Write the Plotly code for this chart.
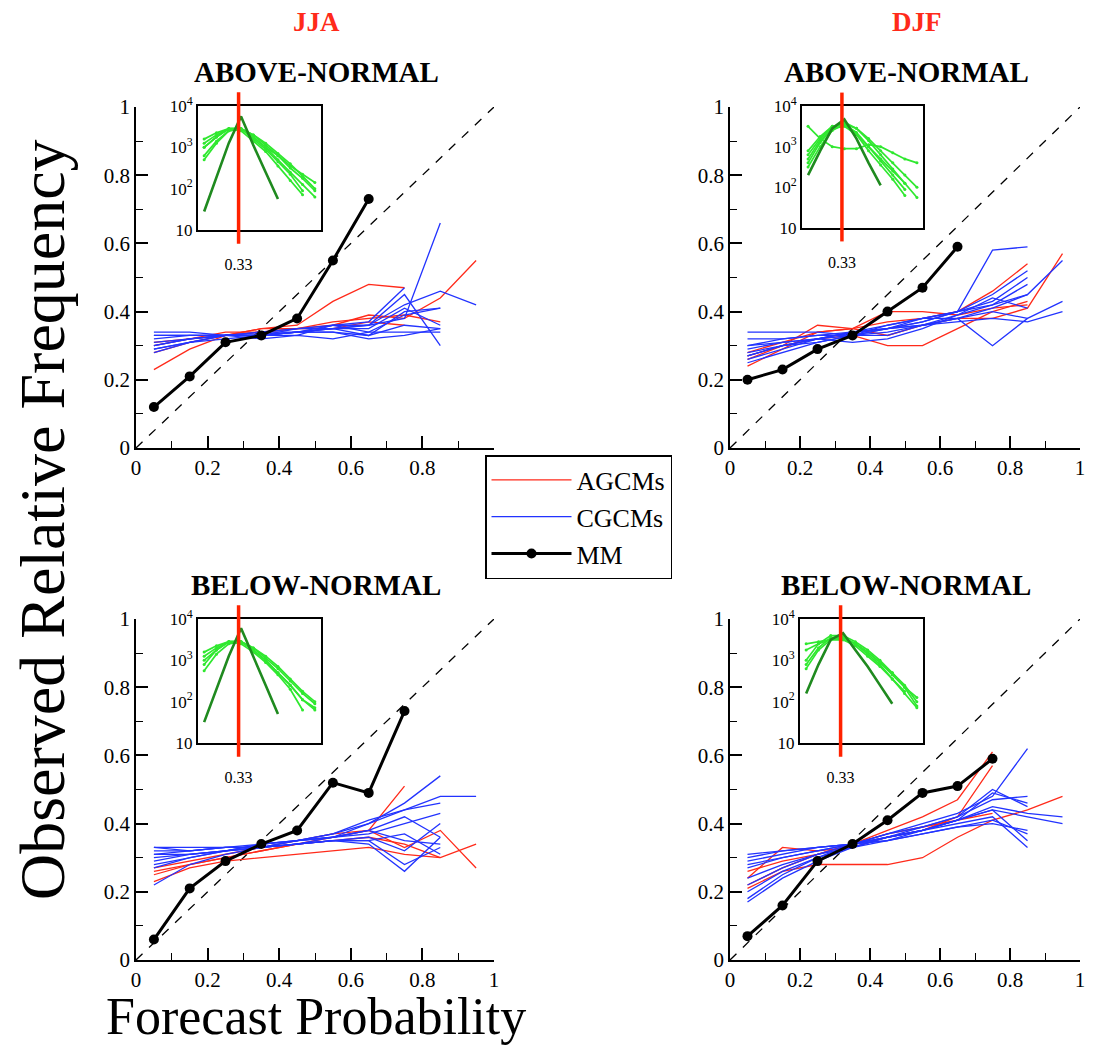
import plotly.graph_objects as go

# ---------------- data ----------------
BINS = [0.05, 0.15, 0.25, 0.35, 0.45, 0.55, 0.65, 0.75, 0.85, 0.95]
SEASONS = ["JJA", "DJF"]
CATEGORIES = ["ABOVE-NORMAL", "BELOW-NORMAL"]
LEGEND_NAMES = ["AGCMs", "CGCMs", "MM"]

# JJA above-normal
JJA_AN_MM = [0.12, 0.21, 0.31, 0.33, 0.38, 0.55, 0.73]
JJA_AN_AGCM = [
    [0.23, 0.29, 0.33, 0.35, 0.36, 0.43, 0.48, 0.47],
    [0.31, 0.32, 0.33, 0.35, 0.35, 0.36, 0.39, 0.38, 0.44, 0.55],
    [0.28, 0.31, 0.33, 0.34, 0.35, 0.35, 0.37, 0.36],
    [0.30, 0.32, 0.34, 0.34, 0.35, 0.37, 0.38, 0.39, 0.37],
]
JJA_AN_CGCM = [
    [0.34, 0.34, 0.33, 0.33, 0.35, 0.35, 0.33, 0.36, 0.35],
    [0.29, 0.31, 0.33, 0.33, 0.34, 0.35, 0.36, 0.38, 0.66],
    [0.30, 0.32, 0.33, 0.34, 0.35, 0.36, 0.37, 0.47],
    [0.28, 0.31, 0.33, 0.33, 0.34, 0.36, 0.36, 0.45, 0.30],
    [0.32, 0.33, 0.33, 0.33, 0.34, 0.34, 0.33, 0.40, 0.41],
    [0.33, 0.33, 0.33, 0.33, 0.34, 0.34, 0.32, 0.33, 0.35],
    [0.30, 0.32, 0.33, 0.33, 0.34, 0.35, 0.36, 0.42, 0.46, 0.42],
    [0.31, 0.32, 0.33, 0.34, 0.34, 0.35, 0.35, 0.41, 0.36],
    [0.29, 0.31, 0.32, 0.33, 0.33, 0.36, 0.34, 0.39, 0.41],
    [0.33, 0.33, 0.33, 0.32, 0.33, 0.32, 0.34, 0.34, 0.34],
]
JJA_AN_HIST_MM = [28, 200, 1260, 5600, 1120, 250, 56]
JJA_AN_HIST_MODELS = [
    [1000, 1780, 2820, 2820, 2000, 1120, 630, 355, 224, 141],
    [630, 1410, 2510, 2820, 1780, 1000, 500, 251, 126, 63],
    [1580, 2240, 2820, 2820, 1580, 890, 450, 224, 89],
    [500, 1260, 2510, 2820, 2000, 1260, 710, 400, 200, 100],
    [1000, 1780, 2820, 2510, 1410, 790, 355, 158, 71],
    [1260, 2000, 2820, 2820, 1780, 1000, 630, 316, 178, 89],
]

# DJF above-normal
DJF_AN_MM = [0.20, 0.23, 0.29, 0.33, 0.40, 0.47, 0.59]
DJF_AN_AGCM = [
    [0.24, 0.29, 0.34, 0.35, 0.37, 0.38, 0.40, 0.46, 0.54],
    [0.27, 0.30, 0.36, 0.35, 0.33, 0.36, 0.38, 0.38, 0.41, 0.57],
    [0.26, 0.30, 0.32, 0.33, 0.30, 0.30, 0.35, 0.40, 0.43],
    [0.28, 0.31, 0.34, 0.35, 0.40, 0.40, 0.39, 0.41, 0.42],
]
DJF_AN_CGCM = [
    [0.27, 0.30, 0.32, 0.34, 0.36, 0.38, 0.40, 0.58, 0.59],
    [0.28, 0.30, 0.32, 0.34, 0.35, 0.37, 0.40, 0.42, 0.45, 0.55],
    [0.30, 0.31, 0.32, 0.34, 0.35, 0.38, 0.38, 0.30, 0.38, 0.43],
    [0.26, 0.29, 0.32, 0.33, 0.36, 0.38, 0.40, 0.45, 0.52],
    [0.34, 0.34, 0.34, 0.33, 0.33, 0.36, 0.39, 0.42, 0.48],
    [0.29, 0.31, 0.32, 0.31, 0.32, 0.35, 0.39, 0.44, 0.41],
    [0.30, 0.32, 0.33, 0.33, 0.34, 0.36, 0.38, 0.40, 0.38],
    [0.27, 0.30, 0.31, 0.33, 0.35, 0.36, 0.38, 0.41, 0.45],
    [0.25, 0.28, 0.31, 0.33, 0.35, 0.37, 0.40, 0.43, 0.50],
    [0.32, 0.32, 0.33, 0.34, 0.35, 0.36, 0.37, 0.38, 0.37, 0.40],
]
DJF_AN_HIST_MM = [200, 790, 2820, 4680, 1580, 400, 112]
DJF_AN_HIST_MODELS = [
    [3160, 1580, 1000, 890, 890, 1120, 1000, 710, 500, 400],
    [400, 1260, 2820, 3980, 2820, 1410, 630, 282, 126, 56],
    [630, 1580, 3160, 3550, 2240, 1000, 500, 251, 126],
    [316, 1000, 2510, 3550, 2000, 790, 355, 158, 63],
    [790, 1780, 3160, 3550, 2820, 1580, 790, 400, 200, 100],
    [500, 1410, 2820, 3160, 2000, 1000, 447, 200, 89],
]

# JJA below-normal
JJA_BN_MM = [0.06, 0.21, 0.29, 0.34, 0.38, 0.52, 0.49, 0.73]
JJA_BN_AGCM = [
    [0.25, 0.28, 0.30, 0.32, 0.34, 0.36, 0.38, 0.51],
    [0.27, 0.29, 0.31, 0.33, 0.35, 0.37, 0.38, 0.33, 0.38, 0.27],
    [0.23, 0.27, 0.29, 0.30, 0.31, 0.32, 0.33, 0.31, 0.30, 0.34],
    [0.26, 0.28, 0.30, 0.32, 0.34, 0.35, 0.36, 0.34, 0.30],
]
JJA_BN_CGCM = [
    [0.22, 0.28, 0.31, 0.33, 0.34, 0.36, 0.40, 0.46, 0.54],
    [0.30, 0.31, 0.32, 0.34, 0.35, 0.37, 0.41, 0.44, 0.48, 0.48],
    [0.28, 0.30, 0.32, 0.34, 0.35, 0.37, 0.40, 0.44, 0.46],
    [0.33, 0.33, 0.33, 0.33, 0.34, 0.35, 0.34, 0.26, 0.36],
    [0.31, 0.32, 0.33, 0.33, 0.34, 0.35, 0.35, 0.28, 0.33],
    [0.33, 0.32, 0.33, 0.34, 0.35, 0.36, 0.37, 0.40, 0.43],
    [0.29, 0.31, 0.32, 0.33, 0.35, 0.36, 0.38, 0.42, 0.36],
    [0.31, 0.31, 0.32, 0.33, 0.34, 0.35, 0.36, 0.32, 0.40],
    [0.27, 0.30, 0.32, 0.33, 0.35, 0.36, 0.38, 0.35, 0.34],
    [0.32, 0.32, 0.33, 0.33, 0.34, 0.35, 0.35, 0.37, 0.31],
]
JJA_BN_HIST_MM = [32, 200, 1260, 6000, 1260, 251, 50]
JJA_BN_HIST_MODELS = [
    [790, 1780, 2820, 2820, 2000, 1120, 630, 316, 158, 89],
    [1260, 2000, 2820, 2820, 1780, 1000, 500, 251, 112, 71],
    [560, 1410, 2510, 2820, 1780, 1000, 500, 251, 112, 63],
    [1580, 2240, 2820, 2510, 1580, 890, 447, 200, 63],
    [1000, 1780, 2820, 2820, 2000, 1260, 710, 355, 178, 100],
]

# DJF below-normal
DJF_BN_MM = [0.07, 0.16, 0.29, 0.34, 0.41, 0.49, 0.51, 0.59]
DJF_BN_AGCM = [
    [0.22, 0.27, 0.31, 0.34, 0.38, 0.42, 0.47, 0.61],
    [0.21, 0.26, 0.28, 0.28, 0.28, 0.30, 0.36, 0.41, 0.44, 0.48],
    [0.24, 0.33, 0.32, 0.33, 0.36, 0.38, 0.42, 0.57],
    [0.26, 0.29, 0.31, 0.34, 0.37, 0.39, 0.41, 0.43],
]
DJF_BN_CGCM = [
    [0.18, 0.25, 0.30, 0.34, 0.37, 0.40, 0.43, 0.48, 0.62],
    [0.30, 0.32, 0.33, 0.34, 0.36, 0.38, 0.41, 0.45, 0.43, 0.42],
    [0.28, 0.30, 0.32, 0.34, 0.36, 0.38, 0.41, 0.44, 0.42, 0.40],
    [0.20, 0.26, 0.30, 0.33, 0.36, 0.38, 0.41, 0.49, 0.46],
    [0.31, 0.32, 0.33, 0.34, 0.35, 0.37, 0.39, 0.41, 0.37],
    [0.27, 0.30, 0.32, 0.34, 0.36, 0.38, 0.40, 0.42, 0.33],
    [0.24, 0.28, 0.31, 0.33, 0.35, 0.38, 0.41, 0.44, 0.35],
    [0.17, 0.24, 0.29, 0.33, 0.36, 0.39, 0.42, 0.47, 0.48],
    [0.29, 0.31, 0.33, 0.34, 0.35, 0.37, 0.39, 0.40, 0.38],
    [0.22, 0.27, 0.31, 0.34, 0.37, 0.39, 0.42, 0.50, 0.45],
]
DJF_BN_HIST_MM = [158, 790, 3160, 4570, 1780, 710, 251, 89]
DJF_BN_HIST_MODELS = [
    [2510, 2820, 3160, 3160, 2510, 1580, 890, 500, 251, 100],
    [1000, 2510, 3980, 3980, 2820, 1780, 1000, 500, 224, 79],
    [790, 2000, 3550, 3550, 2510, 1410, 790, 355, 158, 71],
    [1780, 2510, 3160, 3160, 2240, 1260, 710, 355, 178],
    [630, 1780, 3160, 3550, 2510, 1580, 890, 447, 224, 126],
]

CLIMO = 0.33
INSET_TICKS = [10, 100, 1000, 10000]
INSET_TICKTEXT = ["10", "10<sup>2</sup>", "10<sup>3</sup>", "10<sup>4</sup>"]

PANELS = [
    (JJA_AN_MM, JJA_AN_AGCM, JJA_AN_CGCM, JJA_AN_HIST_MM, JJA_AN_HIST_MODELS),
    (DJF_AN_MM, DJF_AN_AGCM, DJF_AN_CGCM, DJF_AN_HIST_MM, DJF_AN_HIST_MODELS),
    (JJA_BN_MM, JJA_BN_AGCM, JJA_BN_CGCM, JJA_BN_HIST_MM, JJA_BN_HIST_MODELS),
    (DJF_BN_MM, DJF_BN_AGCM, DJF_BN_CGCM, DJF_BN_HIST_MM, DJF_BN_HIST_MODELS),
]

# ---------------- layout geometry ----------------
W, H = 1094, 1047
OFF = 8  # page body margin
SERIF = "Liberation Serif"

def fx(a):
    return (a - OFF) / W

def fy(a):
    return 1 - (a - OFF) / H

def px_x(a, b):
    return [fx(a), fx(b)]

def px_y(top, bottom):
    return [fy(bottom), fy(top)]

MAIN_DOM = [
    (px_x(136, 494), px_y(107, 448)),
    (px_x(730, 1080), px_y(107, 448)),
    (px_x(136, 494), px_y(619, 960)),
    (px_x(730, 1080), px_y(619, 960)),
]
INSET_DOM = [
    (px_x(198, 321), px_y(106, 230)),
    (px_x(802, 923), px_y(106, 228)),
    (px_x(198, 321), px_y(619, 743)),
    (px_x(800, 923), px_y(619, 743)),
]

RED = "#ff2a1a"
BLUE = "#2233ff"
DARKGREEN = "#1f8a1f"
LIGHTGREEN = "#2fe82f"

fig = go.Figure()

for i, (mm, agcm, cgcm, hmm, hmod) in enumerate(PANELS):
    n = i + 1
    xa = "x" if n == 1 else f"x{n}"
    ya = "y" if n == 1 else f"y{n}"
    xi, yi = f"x{n+4}", f"y{n+4}"

    fig.add_trace(go.Scatter(x=[0, 1], y=[0, 1], mode="lines", xaxis=xa, yaxis=ya,
                             line=dict(color="black", width=1.3, dash="dash"),
                             showlegend=False, hoverinfo="skip"))
    for k, ln in enumerate(agcm):
        fig.add_trace(go.Scatter(x=BINS[:len(ln)], y=ln, mode="lines", xaxis=xa, yaxis=ya,
                                 line=dict(color=RED, width=1.3), name=LEGEND_NAMES[0],
                                 legendgroup="a", showlegend=(i == 0 and k == 0)))
    for k, ln in enumerate(cgcm):
        fig.add_trace(go.Scatter(x=BINS[:len(ln)], y=ln, mode="lines", xaxis=xa, yaxis=ya,
                                 line=dict(color=BLUE, width=1.3), name=LEGEND_NAMES[1],
                                 legendgroup="c", showlegend=(i == 0 and k == 0)))
    fig.add_trace(go.Scatter(x=BINS[:len(mm)], y=mm, mode="lines+markers", xaxis=xa, yaxis=ya,
                             line=dict(color="black", width=3),
                             marker=dict(color="black", size=10), name=LEGEND_NAMES[2],
                             legendgroup="m", showlegend=(i == 0)))
    for ln in hmod:
        fig.add_trace(go.Scatter(x=BINS[:len(ln)], y=ln, mode="lines+markers", xaxis=xi, yaxis=yi,
                                 line=dict(color=LIGHTGREEN, width=1.7),
                                 marker=dict(color=LIGHTGREEN, size=3), showlegend=False))
    fig.add_trace(go.Scatter(x=BINS[:len(hmm)], y=hmm, mode="lines", xaxis=xi, yaxis=yi,
                             line=dict(color=DARKGREEN, width=2.6), showlegend=False))
    fig.add_shape(type="line", xref=xi, yref=f"{yi} domain", x0=CLIMO, x1=CLIMO,
                  y0=-0.11, y1=1.11, line=dict(color="#ff2200", width=3.5), layer="above")

tickfont = dict(family=SERIF, size=21, color="black")
main_x = dict(range=[0, 1], showline=True, linecolor="black", linewidth=1.5,
              ticks="inside", ticklen=12, tickwidth=1.5, tickcolor="black",
              tick0=0, dtick=0.2, showgrid=False, zeroline=False, tickfont=tickfont,
              minor=dict(ticks="inside", ticklen=7, tickwidth=1.2, tickcolor="black", dtick=0.1))
inset_x = dict(range=[0, 1], showline=True, mirror=True, linecolor="black", linewidth=2,
               ticks="", tickvals=[CLIMO], ticktext=["0.33"], ticklabelstandoff=19,
               showgrid=False, zeroline=False,
               tickfont=dict(family=SERIF, size=16, color="black"))
inset_y = dict(type="log", range=[1, 4], showline=True, mirror=True, linecolor="black",
               linewidth=2, ticks="", tickvals=INSET_TICKS, ticktext=INSET_TICKTEXT,
               showgrid=False, zeroline=False,
               tickfont=dict(family=SERIF, size=17, color="black"))

layout = {}
for i in range(4):
    n = i + 1
    xk = "xaxis" if n == 1 else f"xaxis{n}"
    yk = "yaxis" if n == 1 else f"yaxis{n}"
    ya = "y" if n == 1 else f"y{n}"
    xa = "x" if n == 1 else f"x{n}"
    layout[xk] = dict(main_x, domain=MAIN_DOM[i][0], anchor=ya)
    layout[yk] = dict(main_x, domain=MAIN_DOM[i][1], anchor=xa)
    layout[f"xaxis{n+4}"] = dict(inset_x, domain=INSET_DOM[i][0], anchor=f"y{n+4}")
    layout[f"yaxis{n+4}"] = dict(inset_y, domain=INSET_DOM[i][1], anchor=f"x{n+4}")

fig.update_layout(**layout)

def ann(text, xc, yc, size, color="black", angle=0):
    return dict(text=text, x=fx(xc), y=fy(yc), xref="paper", yref="paper",
                xanchor="center", yanchor="middle", showarrow=False, textangle=angle,
                font=dict(family=SERIF, size=size, color=color))

annotations = []
for s, xc in zip(SEASONS, [316, 917]):
    annotations.append(ann(f"<b>{s}</b>", xc, 22, 27, "#ff2a1a"))
for (cat, xc, yc) in [(CATEGORIES[0], 316, 72), (CATEGORIES[0], 906, 72),
                      (CATEGORIES[1], 316, 585), (CATEGORIES[1], 906, 585)]:
    annotations.append(ann(f"<b>{cat}</b>", xc, yc, 29))
annotations.append(ann("Observed Relative Frequency", 42, 520, 64, angle=-90))
annotations.append(ann("Forecast Probability", 316, 1016, 52))

fig.update_layout(
    width=W, height=H, autosize=False,
    margin=dict(l=0, r=0, t=0, b=0, autoexpand=False),
    paper_bgcolor="white", plot_bgcolor="white",
    annotations=annotations,
    legend=dict(x=fx(485), y=fy(455), xanchor="left", yanchor="top",
                bgcolor="white", bordercolor="black", borderwidth=1.5,
                font=dict(family=SERIF, size=26, color="black"),
                itemwidth=80, tracegroupgap=0),
)

fig.write_html("out.html")
